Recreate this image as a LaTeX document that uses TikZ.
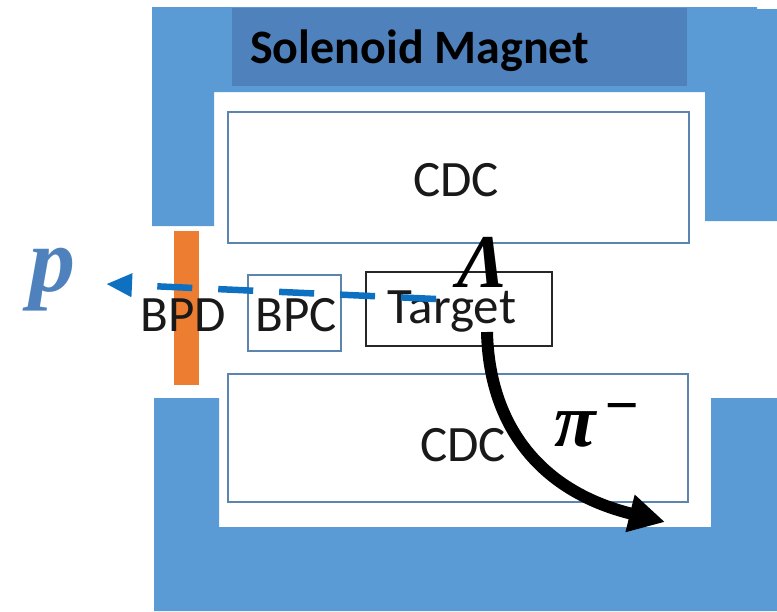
\documentclass[tikz,border=0pt]{standalone}
\usepackage{fontspec}
\setmainfont{Carlito}
\newfontfamily\symfont{Liberation Serif}[BoldItalicFont={Liberation Serif Bold Italic}]
\usetikzlibrary{arrows.meta}
\definecolor{magblue}{HTML}{5B9BD5}
\definecolor{labelblue}{HTML}{4F81BD}
\definecolor{edgeblue}{HTML}{5B84AE}
\definecolor{dashblue}{HTML}{0E70C0}
\definecolor{bpdorange}{HTML}{ED7D31}
\tikzset{
  x=1pt,y=-1pt,
  boxedge/.style={draw=edgeblue,line width=2pt,fill=white,inner sep=0pt},
  lbl/.style={font=\fontsize{51}{51}\selectfont,inner sep=0pt,text=black!90},
  sym/.style={font=\fontsize{#1}{#1}\selectfont\symfont\bfseries\itshape,inner sep=0pt}
}
\begin{document}
\begin{tikzpicture}
\useasboundingbox (0,0) rectangle (777,611);
\fill[magblue] (152,7) -- (757,7) -- (757,9) -- (777,9) -- (777,221) -- (705,221) -- (705,92) -- (214,92) -- (214,226) -- (152,226) -- cycle;
\fill[magblue] (154,398) -- (219,398) -- (219,527) -- (711,527) -- (711,398) -- (777,398) -- (777,611) -- (154,611) -- cycle;
\node[fill=labelblue,minimum width=455pt,minimum height=78pt,inner sep=0pt,anchor=north west] (magnet) at (232,8) {};
\node[font=\fontsize{48}{48}\selectfont\bfseries,inner sep=0pt,anchor=base west] (magnetlabel) at (250,63) {Solenoid Magnet};
\node[boxedge,minimum width=461pt,minimum height=131pt,anchor=north west] (cdctop) at (227,111) {};
\node[lbl] (cdctoplabel) at (456,180) {CDC};
\node[boxedge,minimum width=460pt,minimum height=128pt,anchor=north west] (cdcbot) at (227,373) {};
\node[lbl] (cdcbotlabel) at (463,445) {CDC};
\node[fill=bpdorange,minimum width=25pt,minimum height=154pt,inner sep=0pt,anchor=north west] (bpd) at (174,231) {};
\node[lbl] (bpdlabel) at (183,315) {BPD};
\node[boxedge,minimum width=93pt,minimum height=76pt,anchor=north west] (bpc) at (247,274) {};
\node[lbl] (bpclabel) at (296,315) {BPC};
\node[draw=black!85,line width=2pt,fill=white,minimum width=186pt,minimum height=74pt,inner sep=0pt,anchor=north west] (target) at (365,271) {};
\node[lbl] (targetlabel) at (452,312) {Target};
\coordinate (pstart) at (436,299);
\coordinate (pend) at (106,284);
\draw[dashblue,line width=6.5pt,dash pattern=on 35pt off 26pt,-{Triangle[length=26pt,width=22pt]}] (pstart) -- (pend);
\coordinate (pistart) at (487,332);
\coordinate (piend) at (665,522);
\draw[black,line width=12pt,-{Triangle[length=36pt,width=36pt]}] (pistart) .. controls (489,420) and (535,490) .. (piend);
\node[sym=92,text=labelblue,anchor=base] (plabel) at (52,291) {p};
\node[sym=76,text=black,anchor=base] (lambdalabel) at (483,287) {Λ};
\node[sym=76,text=black,anchor=base] (pilabel) at (575,446) {π};
\node[sym=60,text=black,anchor=base] (minuslabel) at (622,425) {−};
\end{tikzpicture}
\end{document}
